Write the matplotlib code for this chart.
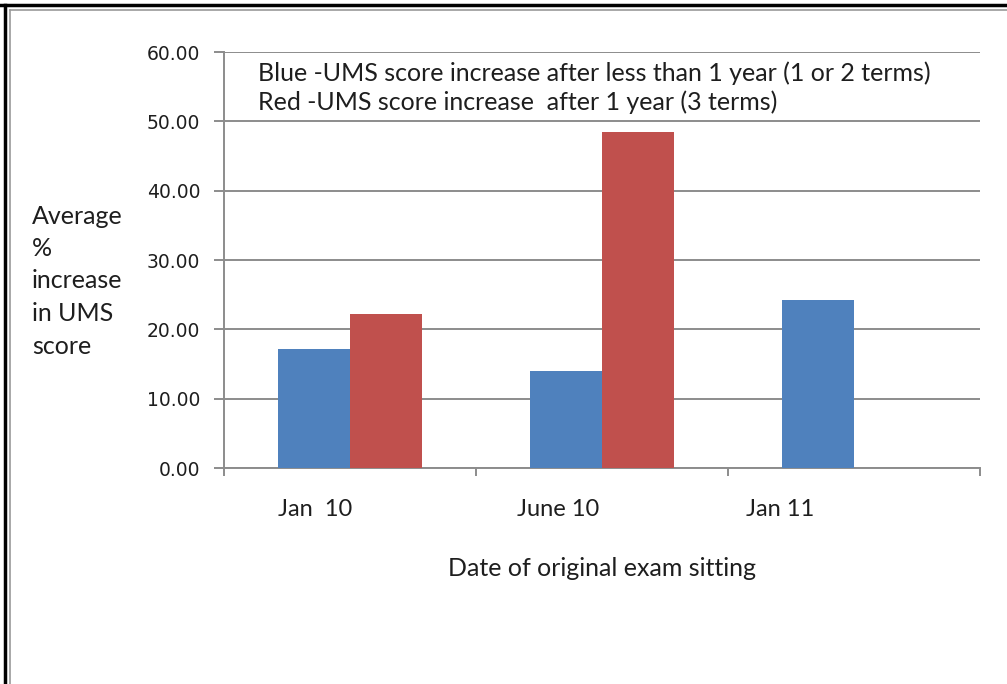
import numpy as np
import matplotlib.pyplot as plt
from matplotlib.lines import Line2D

# Data
categories = ["Jan  10", "June 10", "Jan 11"]
blue_vals = [17.1, 14.0, 24.2]           # less than 1 year (1 or 2 terms)
red_vals = [22.2, 48.4, np.nan]          # after 1 year (3 terms)
yticks = [0, 10, 20, 30, 40, 50, 60]

plt.rcParams['font.family'] = ['Lato', 'DejaVu Sans']

blue = "#4F81BD"
red = "#C0504D"
grid_col = "#8c8c8c"
text_col = "#1e1e1e"

fig = plt.figure(figsize=(10.07, 6.84), dpi=100)
ax = fig.add_axes([224 / 1007, 1 - 468 / 684, 756 / 1007, 416 / 684])

x = np.arange(len(categories))
w = 0.285
ax.bar(x - w / 2, blue_vals, w, color=blue, zorder=3)
ax.bar(x + w / 2, red_vals, w, color=red, zorder=3)

ax.set_xlim(-0.5, len(categories) - 0.5)
ax.set_ylim(0, 60)

# y axis
ax.set_yticks(yticks)
ax.set_yticklabels([f"{v:.2f}" for v in yticks], family="DejaVu Sans",
                   fontsize=13.5, color=text_col)
ax.tick_params(axis="y", length=7, width=1.4, color=grid_col, pad=10)
ax.yaxis.grid(True, color=grid_col, linewidth=1.4, zorder=0)

# x axis: tick marks at category boundaries, labels set slightly left
ax.set_xticks(np.arange(len(categories) + 1) - 0.5)
ax.set_xticklabels([])
ax.tick_params(axis="x", which="major", length=6, width=1.4, color=grid_col)
label_pos = [-0.14, 0.825, 1.705]
ax.set_xticks(label_pos, minor=True)
ax.set_xticklabels(categories, minor=True, fontsize=17, color=text_col)
ax.tick_params(axis="x", which="minor", length=0, pad=22)

for s in ["top", "right"]:
    ax.spines[s].set_visible(False)
for s in ["left", "bottom"]:
    ax.spines[s].set_color(grid_col)
    ax.spines[s].set_linewidth(1.4)
ax.set_axisbelow(True)

# annotation text in the plot
ax.text(0.045, 0.95, "Blue -UMS score increase after less than 1 year (1 or 2 terms)",
        transform=ax.transAxes, fontsize=18, color=text_col, va="center", ha="left")
ax.text(0.045, 0.88, "Red -UMS score increase  after 1 year (3 terms)",
        transform=ax.transAxes, fontsize=18, color=text_col, va="center", ha="left")

# axis titles
fig.text(32 / 1007, 1 - 281 / 684, "Average\n%\nincrease\nin UMS\nscore",
         fontsize=18, color=text_col, ha="left", va="center", linespacing=1.5)
fig.text(602 / 1007, 1 - 568 / 684, "Date of original exam sitting",
         fontsize=18, color=text_col, ha="center", va="center")

# frame lines (top and left only)
fig.add_artist(Line2D([0, 1], [1 - 5 / 684] * 2, color="black", linewidth=2.5))
fig.add_artist(Line2D([5 / 1007] * 2, [0, 1 - 5 / 684], color="black", linewidth=2.5))
fig.add_artist(Line2D([10 / 1007, 1], [1 - 10 / 684] * 2, color="#999999", linewidth=1.2))
fig.add_artist(Line2D([10 / 1007] * 2, [0, 1 - 10 / 684], color="#999999", linewidth=1.2))

fig.savefig("out.png", dpi=100)
